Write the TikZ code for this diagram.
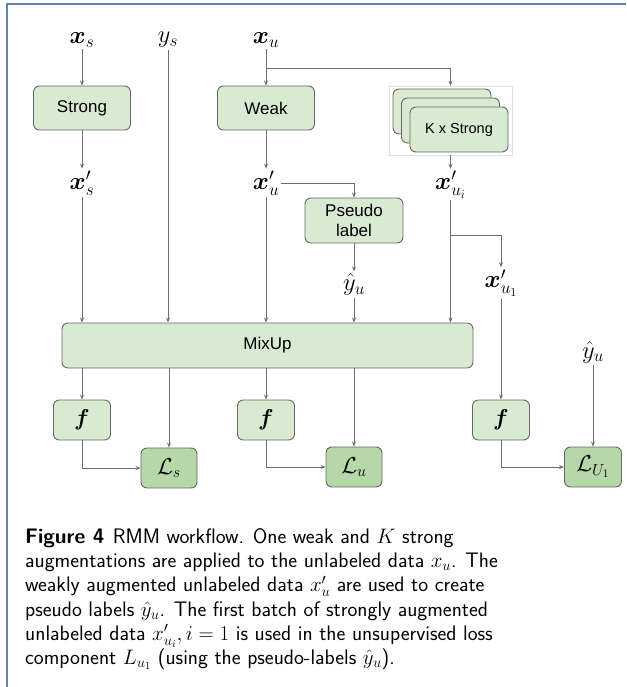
\RequirePackage{fix-cm}
\documentclass[tikz,border=0pt]{standalone}
\usepackage{amsmath}
\usepackage{bm}
\usepackage{fontspec}
\newfontfamily\drawfont{Liberation Sans}
\usetikzlibrary{positioning,arrows.meta}
\definecolor{boxgreen}{HTML}{D9EAD3}
\definecolor{lossgreen}{HTML}{B6D7A8}
\definecolor{edgegray}{HTML}{666666}
\definecolor{linegray}{HTML}{6E6E6E}
\definecolor{frameblue}{HTML}{6584AB}
\tikzset{
  box/.style={draw=edgegray, fill=boxgreen, rounded corners=6pt, line width=0.9pt,
    minimum width=97pt, minimum height=44pt, inner sep=0pt, align=center,
    font=\drawfont\fontsize{17}{20}\selectfont},
  fbox/.style={box, minimum width=57pt, minimum height=40pt, font=\fontsize{23}{27}\selectfont},
  lossbox/.style={fbox, fill=lossgreen, minimum width=56pt},
  lbl/.style={font=\fontsize{24.5}{28}\selectfont, inner sep=2pt},
  arr/.style={draw=linegray, line width=0.8pt, -{Stealth[length=5pt,width=4pt]}}
}

\begin{document}
\begin{tikzpicture}[x=1pt, y=-1pt, on grid]
      \useasboundingbox (0,0) rectangle (626,687);
      \draw[frameblue, line width=1.6pt] (626,4) -- (7,4) -- (7,687);

      \node[lbl] (xs) at (82,40) {$\bm{x}_s$};
      \node[lbl] (ys) at (168,40) {$y_s$};
      \node[lbl] (xu) at (266,40) {$\bm{x}_u$};
      \node[box, below=68pt of xs] (strong) {Strong};
      \node[box, below=68pt of xu] (weak) {Weak};
      \node[lbl, below=75pt of strong] (xsp) {$\bm{x}'_s$};
      \node[lbl, below=75pt of weak] (xup) {$\bm{x}'_u$};

      \node[draw=black!12, minimum width=123pt, minimum height=69pt] (kfr) at (450.5,120.5) {};
      \node[box, minimum width=98pt, minimum height=45pt] (k3) at (442,111.5) {};
      \node[box, minimum width=98pt, minimum height=45pt, below right=9pt and 8.5pt of k3] (k2) {};
      \node[box, minimum width=98pt, minimum height=45pt, below right=9pt and 8.5pt of k2,
        font=\drawfont\fontsize{14.5}{17}\selectfont] (k1) {K x Strong};
      \node[lbl, below=64pt of kfr] (xui) {$\bm{x}'_{u_i}$};

      \node[box, minimum width=98pt, minimum height=45pt] (pseudo) at (354,220.5) {Pseudo\\label};
      \node[lbl, below=64pt of pseudo] (yu) {$\hat{y}_u$};
      \node[lbl, fill=white] (xu1) at (501,283) {$\bm{x}'_{u_1}$};

      \node[box, minimum width=411pt, minimum height=45pt] (mix) at (267.5,345.5) {MixUp};

      \node[fbox] (f1) at (82,420) {$\bm{f}$};
      \node[fbox] (f2) at (266,420) {$\bm{f}$};
      \node[fbox] (f3) at (501,420) {$\bm{f}$};
      \node[lossbox] (ls) at (169,468) {$\mathcal{L}_s$};
      \node[lossbox] (lu) at (354,467) {$\mathcal{L}_u$};
      \node[lossbox, minimum width=57pt] (lu1) at (593,467) {$\mathcal{L}_{U_1}$};
      \node[lbl] (yu2) at (593,352) {$\hat{y}_u$};

      \coordinate (xusplit) at (266,68);
      \coordinate (xuisplit) at (450.5,235);

      \draw[arr] (xs) -- (strong);
      \draw[arr] (strong) -- (xsp);
      \draw[arr] (xsp) -- (xsp |- mix.north);
      \draw[arr] (ys) -- (ys |- mix.north);
      \draw[arr] (xu) -- (weak);
      \draw[arr] (xusplit) -| (kfr.north);
      \draw[arr] (weak) -- (xup);
      \draw[arr] (xup) -- (xup |- mix.north);
      \draw[arr] (xup.east) -| (pseudo.north);
      \draw[arr] (pseudo) -- (yu);
      \draw[arr] (yu) -- (yu |- mix.north);
      \draw[arr] (kfr) -- (xui);
      \draw[arr] (xui) -- (xui |- mix.north);
      \draw[arr] (xuisplit) -| (xu1.north);
      \draw[arr] (xu1) -- (f3);
      \draw[arr] (mix.south -| f1) -- (f1);
      \draw[arr] (mix.south -| ls) -- (ls);
      \draw[arr] (mix.south -| f2) -- (f2);
      \draw[arr] (mix.south -| lu) -- (lu);
      \draw[arr] (f1) |- (ls);
      \draw[arr] (f2) |- (lu);
      \draw[arr] (f3) |- (lu1);
      \draw[arr] (yu2) -- (lu1);

      \node[anchor=north west, inner sep=0pt, align=left,
        font=\sffamily\fontsize{21}{24.3}\selectfont] (cap) at (25,528)
        {\textbf{Figure 4}\hspace{0.4em}RMM workflow. One weak and $K$ strong\\
         augmentations are applied to the unlabeled data $x_u$. The\\
         weakly augmented unlabeled data $x'_u$ are used to create\\
         pseudo labels $\hat{y}_u$. The first batch of strongly augmented\\
         unlabeled data $x'_{u_i}, i=1$ is used in the unsupervised loss\\
         component $L_{u_1}$ (using the pseudo-labels $\hat{y}_u$).};
\end{tikzpicture}
\end{document}
